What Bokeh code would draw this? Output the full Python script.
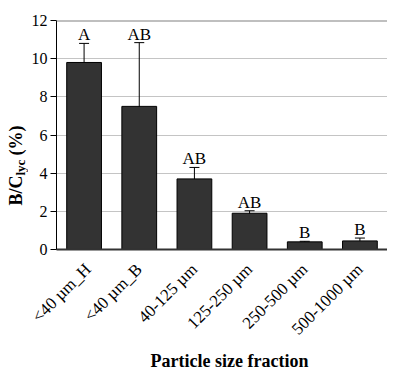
import math
from bokeh.plotting import figure
from bokeh.layouts import row, column
from bokeh.models import (ColumnDataSource, Range1d, Whisker, TeeHead, LabelSet,
                          Span, FixedTicker)
from bokeh.core.properties import value
from bokeh.embed import file_html
from bokeh.resources import INLINE

categories = ["<40 µm_H", "<40 µm_B", "40-125 µm", "125-250 µm", "250-500 µm", "500-1000 µm"]
values = [9.8, 7.5, 3.7, 1.9, 0.4, 0.45]
err_upper = [10.8, 10.84, 4.3, 2.03, 0.43, 0.6]
err_lower = [8.83, 4.12, 3.05, 1.78, 0.36, 0.3]
letters = ["A", "AB", "AB", "AB", "B", "B"]
y_ticks = [0, 2, 4, 6, 8, 10, 12]
x_title = "Particle size fraction"
y_title_parts = ["B/C", "lyc", "(%)"]

SERIF = "Liberation Serif"
LW = 28            # width of the y-title strip
MW, MH = 359, 348  # main figure
XH = 24            # x-title strip height

xpos = list(range(len(categories)))
src = ColumnDataSource(dict(x=xpos, val=values, up=err_upper, lo=err_lower, let=letters))

p = figure(x_range=Range1d(-0.5, len(categories) - 0.5), y_range=Range1d(0, 12),
           width=MW, height=MH, output_backend="svg", toolbar_location=None,
           min_border_left=28, min_border_right=0, min_border_top=20, min_border_bottom=97)
p.outline_line_color = None

p.vbar(x="x", top="val", bottom=0, width=0.63, source=src,
       fill_color="#333333", line_color="black", line_width=1)

p.add_layout(Whisker(base="x", upper="up", lower="lo", source=src, line_color="black",
                     line_width=1,
                     upper_head=TeeHead(size=10, line_color="black", line_width=1),
                     lower_head=TeeHead(size=10, line_color="black", line_width=1)))

p.add_layout(LabelSet(x="x", y="up", text="let", source=src, y_offset=3,
                      text_align="center", text_baseline="alphabetic",
                      text_font=SERIF, text_font_size="17px", text_color="black"))

p.add_layout(Span(location=12, dimension="width", line_color="#808080", line_width=2))

p.xgrid.grid_line_color = None
p.ygrid.grid_line_color = "#c4c4c4"
p.yaxis.ticker = y_ticks

p.yaxis.axis_line_color = "black"
p.yaxis.major_tick_out = 6
p.yaxis.major_tick_in = 0
p.yaxis.minor_tick_line_color = None
p.yaxis.major_label_text_font = SERIF
p.yaxis.major_label_text_font_size = "16px"
p.yaxis.major_label_text_color = "black"
p.yaxis.major_label_standoff = 3

p.xaxis.ticker = FixedTicker(ticks=xpos)
p.xaxis.major_label_overrides = {i: c for i, c in zip(xpos, categories)}
p.xaxis.axis_line_color = "#333333"
p.xaxis.axis_line_width = 2
p.xaxis.major_tick_line_color = None
p.xaxis.major_tick_out = 0
p.xaxis.minor_tick_line_color = None
p.xaxis.major_label_orientation = math.pi / 4
p.xaxis.major_label_text_font = SERIF
p.xaxis.major_label_text_font_size = "17px"
p.xaxis.major_label_text_color = "black"
p.xaxis.major_label_standoff = 17


def strip(w, h):
    f = figure(frame_width=w, frame_height=h, x_range=Range1d(0, w), y_range=Range1d(0, h),
               x_axis_location=None, y_axis_location=None,
               output_backend="svg", toolbar_location=None,
               min_border_left=0, min_border_right=0, min_border_top=0, min_border_bottom=0)
    f.grid.visible = False
    f.outline_line_color = None
    return f


# ---- y title strip (pixel coordinates, y measured from the strip bottom) ----
yf = strip(LW, MH)
y0 = 163
bx = 15.5
yf.text(x=[bx, bx + 4, bx], y=[y0, y0 + 30, y0 + 50],
        text=y_title_parts, angle=math.pi / 2,
        text_font=value(SERIF), text_font_style="bold",
        text_font_size=["18px", "13px", "18px"],
        text_align="left", text_baseline="alphabetic", text_color="black")

# ---- x title strip ----
xf = strip(LW + MW, XH)
xf.text(x=[229], y=[12], text=[x_title],
        text_font=value(SERIF), text_font_style="bold", text_font_size="18px",
        text_align="center", text_baseline="middle", text_color="black")

layout = column(row(yf, p, spacing=0), xf, spacing=0)
open("out.html", "w").write(file_html(layout, INLINE))
